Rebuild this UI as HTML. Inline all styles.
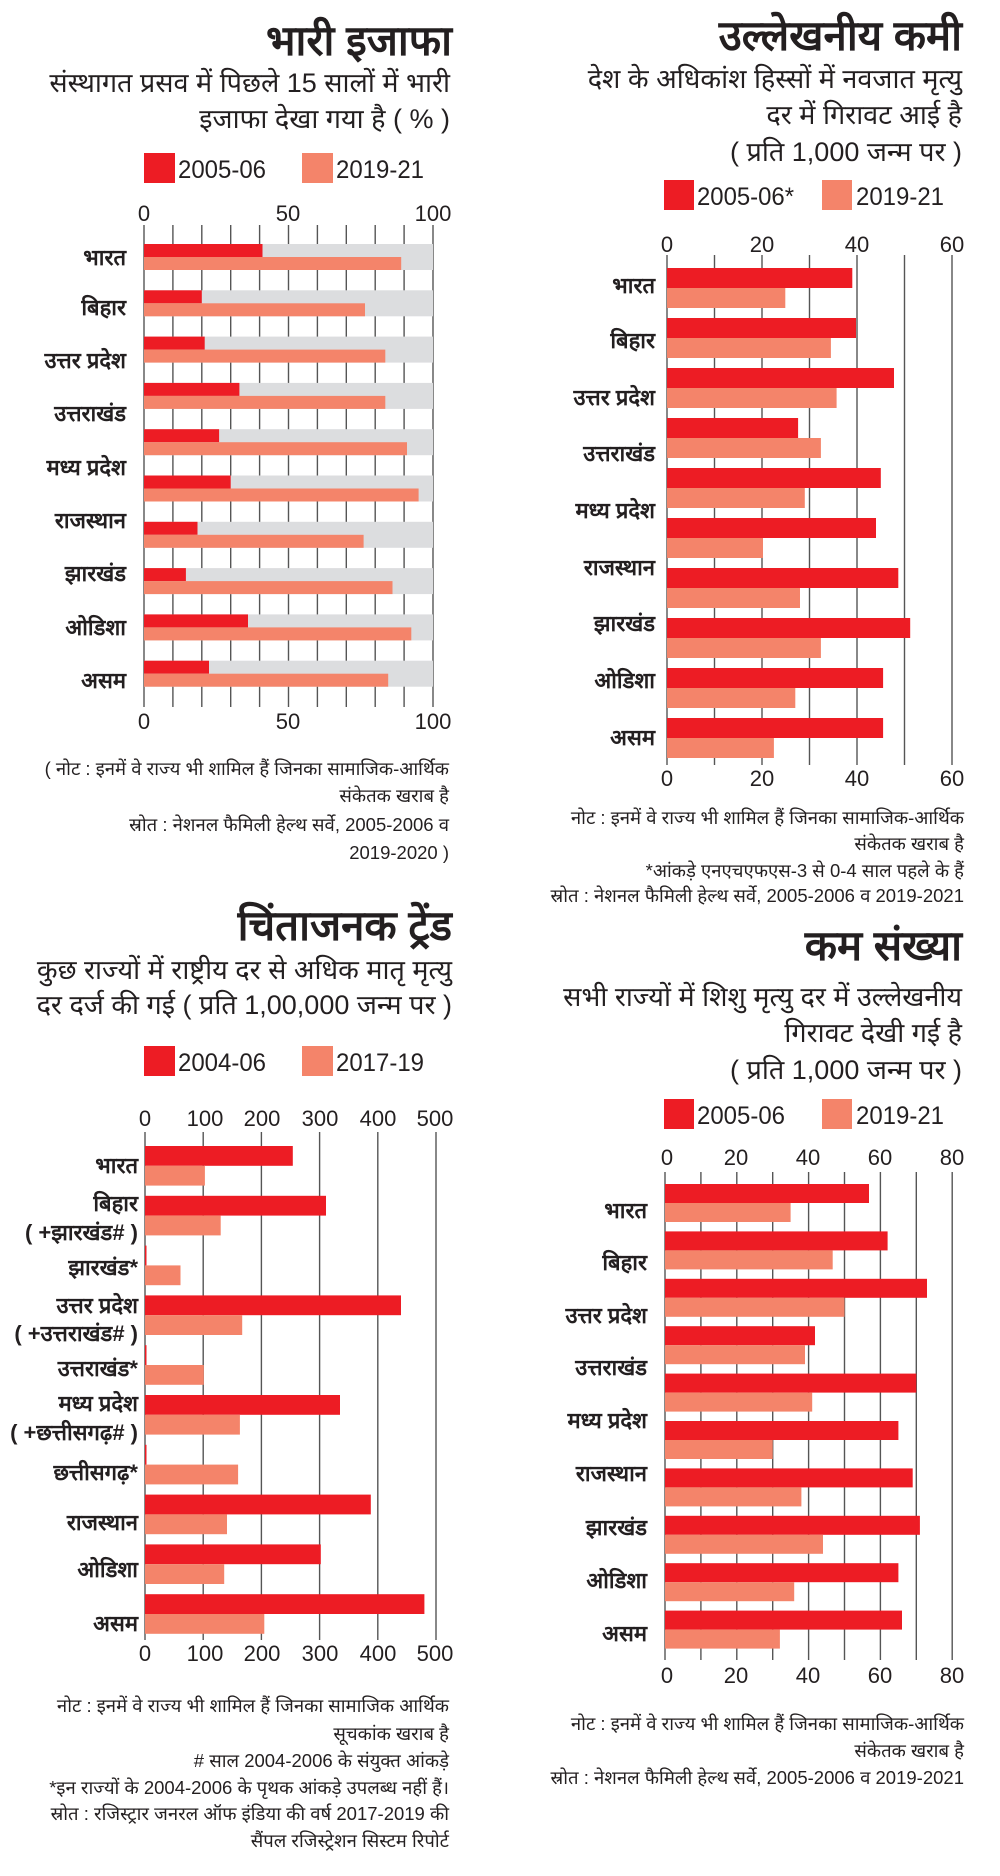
<!DOCTYPE html>
<html><head><meta charset="utf-8"><style>
html,body{margin:0;padding:0;background:#fff;}
svg{display:block;}
text{font-family:"Liberation Sans Narrow","Liberation Sans",sans-serif;fill:#231f20;}
.t{font-size:42px;font-weight:bold;text-anchor:end;}
.s{font-size:27px;text-anchor:end;}
.lg{font-size:25px;}
.k{font-size:22px;text-anchor:middle;}
.l{font-size:22px;font-weight:bold;text-anchor:end;}
.n{font-size:18.5px;text-anchor:end;}
.g line{stroke:#555;stroke-width:1.4;}
.r{fill:#ed1c24;} .o{fill:#f4846a;} .b{fill:#dcdddf;}
</style></head><body>
<svg width="1000" height="1876" viewBox="0 0 1000 1876" xmlns="http://www.w3.org/2000/svg">

<!-- ===== Chart 1 ===== -->
<text class="t" x="452" y="55">भारी इजाफा</text>
<text class="s" x="450" y="92">संस्थागत प्रसव में पिछले 15 सालों में भारी</text>
<text class="s" x="450" y="128">इजाफा देखा गया है ( % )</text>
<rect class="r" x="144" y="153" width="31" height="30"/><text class="lg" x="178" y="178" textLength="88" lengthAdjust="spacingAndGlyphs">2005-06</text>
<rect class="o" x="302" y="153" width="31" height="30"/><text class="lg" x="336" y="178" textLength="88" lengthAdjust="spacingAndGlyphs">2019-21</text>
<text class="k" x="144" y="221">0</text><text class="k" x="288" y="221">50</text><text class="k" x="433" y="221">100</text>
<g class="g">
<line x1="144" y1="225" x2="144" y2="707"/><line x1="172.9" y1="225" x2="172.9" y2="707"/><line x1="201.8" y1="225" x2="201.8" y2="707"/><line x1="230.7" y1="225" x2="230.7" y2="707"/><line x1="259.6" y1="225" x2="259.6" y2="707"/><line x1="288.5" y1="225" x2="288.5" y2="707"/><line x1="317.4" y1="225" x2="317.4" y2="707"/><line x1="346.3" y1="225" x2="346.3" y2="707"/><line x1="375.2" y1="225" x2="375.2" y2="707"/><line x1="404.1" y1="225" x2="404.1" y2="707"/><line x1="433" y1="225" x2="433" y2="707"/>
</g>
<g>
<rect class="b" x="144" y="244" width="289" height="26"/><rect class="r" x="144" y="244" width="118.5" height="13"/><rect class="o" x="144" y="257" width="257.2" height="13"/>
<rect class="b" x="144" y="290.3" width="289" height="26"/><rect class="r" x="144" y="290.3" width="57.8" height="13"/><rect class="o" x="144" y="303.3" width="221" height="13"/>
<rect class="b" x="144" y="336.6" width="289" height="26"/><rect class="r" x="144" y="336.6" width="60.7" height="13"/><rect class="o" x="144" y="349.6" width="241.3" height="13"/>
<rect class="b" x="144" y="382.9" width="289" height="26"/><rect class="r" x="144" y="382.9" width="95.4" height="13"/><rect class="o" x="144" y="395.9" width="241.3" height="13"/>
<rect class="b" x="144" y="429.2" width="289" height="26"/><rect class="r" x="144" y="429.2" width="75.1" height="13"/><rect class="o" x="144" y="442.2" width="263" height="13"/>
<rect class="b" x="144" y="475.5" width="289" height="26"/><rect class="r" x="144" y="475.5" width="86.7" height="13"/><rect class="o" x="144" y="488.5" width="274.6" height="13"/>
<rect class="b" x="144" y="521.8" width="289" height="26"/><rect class="r" x="144" y="521.8" width="53.5" height="13"/><rect class="o" x="144" y="534.8" width="219.6" height="13"/>
<rect class="b" x="144" y="568.1" width="289" height="26"/><rect class="r" x="144" y="568.1" width="41.9" height="13"/><rect class="o" x="144" y="581.1" width="248.5" height="13"/>
<rect class="b" x="144" y="614.4" width="289" height="26"/><rect class="r" x="144" y="614.4" width="104" height="13"/><rect class="o" x="144" y="627.4" width="267.3" height="13"/>
<rect class="b" x="144" y="660.7" width="289" height="26"/><rect class="r" x="144" y="660.7" width="65" height="13"/><rect class="o" x="144" y="673.7" width="244.2" height="13"/>
</g>
<text class="l" x="126" y="265">भारत</text>
<text class="l" x="126" y="315">बिहार</text>
<text class="l" x="126" y="368">उत्तर प्रदेश</text>
<text class="l" x="126" y="421">उत्तराखंड</text>
<text class="l" x="126" y="475">मध्य प्रदेश</text>
<text class="l" x="126" y="528">राजस्थान</text>
<text class="l" x="126" y="581">झारखंड</text>
<text class="l" x="126" y="635">ओडिशा</text>
<text class="l" x="126" y="688">असम</text>
<text class="k" x="144" y="729">0</text><text class="k" x="288" y="729">50</text><text class="k" x="433" y="729">100</text>
<text class="n" x="449" y="775">( नोट : इनमें वे राज्य भी शामिल हैं जिनका सामाजिक-आर्थिक</text>
<text class="n" x="449" y="802">संकेतक खराब है</text>
<text class="n" x="449" y="831">स्रोत : नेशनल फैमिली हेल्थ सर्वे, 2005-2006 व</text>
<text class="n" x="449" y="859">2019-2020 )</text>

<!-- ===== Chart 2 ===== -->
<text class="t" x="962" y="50">उल्लेखनीय कमी</text>
<text class="s" x="962" y="88">देश के अधिकांश हिस्सों में नवजात मृत्यु</text>
<text class="s" x="962" y="124">दर में गिरावट आई है</text>
<text class="s" x="962" y="161">( प्रति 1,000 जन्म पर )</text>
<rect class="r" x="664" y="180" width="30" height="30"/><text class="lg" x="697" y="205" textLength="97" lengthAdjust="spacingAndGlyphs">2005-06*</text>
<rect class="o" x="822" y="180" width="30" height="30"/><text class="lg" x="856" y="205" textLength="88" lengthAdjust="spacingAndGlyphs">2019-21</text>
<text class="k" x="667" y="252">0</text><text class="k" x="762" y="252">20</text><text class="k" x="857" y="252">40</text><text class="k" x="952" y="252">60</text>
<g class="g">
<line x1="667" y1="255" x2="667" y2="765"/><line x1="714.5" y1="255" x2="714.5" y2="765"/><line x1="762" y1="255" x2="762" y2="765"/><line x1="809.5" y1="255" x2="809.5" y2="765"/><line x1="857" y1="255" x2="857" y2="765"/><line x1="904.5" y1="255" x2="904.5" y2="765"/><line x1="952" y1="255" x2="952" y2="765"/>
</g>
<g>
<rect class="r" x="667" y="268" width="185.3" height="20"/><rect class="o" x="667" y="288" width="118.3" height="20"/>
<rect class="r" x="667" y="318" width="189" height="20"/><rect class="o" x="667" y="338" width="163.9" height="20"/>
<rect class="r" x="667" y="368" width="227" height="20"/><rect class="o" x="667" y="388" width="169.6" height="20"/>
<rect class="r" x="667" y="418" width="131.1" height="20"/><rect class="o" x="667" y="438" width="153.9" height="20"/>
<rect class="r" x="667" y="468" width="213.8" height="20"/><rect class="o" x="667" y="488" width="137.8" height="20"/>
<rect class="r" x="667" y="518" width="209" height="20"/><rect class="o" x="667" y="538" width="96" height="20"/>
<rect class="r" x="667" y="568" width="231.3" height="20"/><rect class="o" x="667" y="588" width="133" height="20"/>
<rect class="r" x="667" y="618" width="243.2" height="20"/><rect class="o" x="667" y="638" width="153.9" height="20"/>
<rect class="r" x="667" y="668" width="216.1" height="20"/><rect class="o" x="667" y="688" width="128.3" height="20"/>
<rect class="r" x="667" y="718" width="216.1" height="20"/><rect class="o" x="667" y="738" width="106.9" height="20"/>
</g>
<text class="l" x="655" y="293">भारत</text>
<text class="l" x="655" y="348">बिहार</text>
<text class="l" x="655" y="405">उत्तर प्रदेश</text>
<text class="l" x="655" y="461">उत्तराखंड</text>
<text class="l" x="655" y="518">मध्य प्रदेश</text>
<text class="l" x="655" y="575">राजस्थान</text>
<text class="l" x="655" y="631">झारखंड</text>
<text class="l" x="655" y="688">ओडिशा</text>
<text class="l" x="655" y="745">असम</text>
<text class="k" x="667" y="786">0</text><text class="k" x="762" y="786">20</text><text class="k" x="857" y="786">40</text><text class="k" x="952" y="786">60</text>
<text class="n" x="964" y="824">नोट : इनमें वे राज्य भी शामिल हैं जिनका सामाजिक-आर्थिक</text>
<text class="n" x="964" y="850">संकेतक खराब है</text>
<text class="n" x="964" y="877">*आंकड़े एनएचएफएस-3 से 0-4 साल पहले के हैं</text>
<text class="n" x="964" y="902">स्रोत : नेशनल फैमिली हेल्थ सर्वे, 2005-2006 व 2019-2021</text>

<!-- ===== Chart 3 ===== -->
<text class="t" x="452" y="940">चिंताजनक ट्रेंड</text>
<text class="s" x="452" y="979">कुछ राज्यों में राष्ट्रीय दर से अधिक मातृ मृत्यु</text>
<text class="s" x="452" y="1014">दर दर्ज की गई ( प्रति 1,00,000 जन्म पर )</text>
<rect class="r" x="144" y="1046" width="31" height="30"/><text class="lg" x="178" y="1071" textLength="88" lengthAdjust="spacingAndGlyphs">2004-06</text>
<rect class="o" x="302" y="1046" width="31" height="30"/><text class="lg" x="336" y="1071" textLength="88" lengthAdjust="spacingAndGlyphs">2017-19</text>
<text class="k" x="145" y="1126">0</text><text class="k" x="205" y="1126">100</text><text class="k" x="262" y="1126">200</text><text class="k" x="320" y="1126">300</text><text class="k" x="378" y="1126">400</text><text class="k" x="435" y="1126">500</text>
<g class="g">
<line x1="145" y1="1132" x2="145" y2="1640"/><line x1="203.2" y1="1132" x2="203.2" y2="1640"/><line x1="261.4" y1="1132" x2="261.4" y2="1640"/><line x1="319.6" y1="1132" x2="319.6" y2="1640"/><line x1="377.8" y1="1132" x2="377.8" y2="1640"/><line x1="436" y1="1132" x2="436" y2="1640"/>
</g>
<g>
<rect class="r" x="145" y="1146" width="147.8" height="19.8"/><rect class="o" x="145" y="1165.8" width="59.9" height="19.8"/>
<rect class="r" x="145" y="1195.8" width="181" height="19.8"/><rect class="o" x="145" y="1215.6" width="75.7" height="19.8"/>
<rect class="r" x="145" y="1245.6" width="1.5" height="19.8"/><rect class="o" x="145" y="1265.4" width="35.5" height="19.8"/>
<rect class="r" x="145" y="1295.4" width="256" height="19.8"/><rect class="o" x="145" y="1315.2" width="97.2" height="19.8"/>
<rect class="r" x="145" y="1345.2" width="1.5" height="19.8"/><rect class="o" x="145" y="1365" width="58.8" height="19.8"/>
<rect class="r" x="145" y="1395" width="195" height="19.8"/><rect class="o" x="145" y="1414.8" width="94.9" height="19.8"/>
<rect class="r" x="145" y="1444.8" width="1.5" height="19.8"/><rect class="o" x="145" y="1464.6" width="93.1" height="19.8"/>
<rect class="r" x="145" y="1494.6" width="225.8" height="19.8"/><rect class="o" x="145" y="1514.4" width="82" height="19.8"/>
<rect class="r" x="145" y="1544.4" width="175.8" height="19.8"/><rect class="o" x="145" y="1564.2" width="79.2" height="19.8"/>
<rect class="r" x="145" y="1594.2" width="279.4" height="19.8"/><rect class="o" x="145" y="1614" width="119.3" height="19.8"/>
</g>
<text class="l" x="138" y="1173">भारत</text>
<text class="l" x="138" y="1211">बिहार</text>
<text class="l" x="138" y="1240">( +झारखंड# )</text>
<text class="l" x="138" y="1275">झारखंड*</text>
<text class="l" x="138" y="1313">उत्तर प्रदेश</text>
<text class="l" x="138" y="1341">( +उत्तराखंड# )</text>
<text class="l" x="138" y="1376">उत्तराखंड*</text>
<text class="l" x="138" y="1411">मध्य प्रदेश</text>
<text class="l" x="138" y="1440">( +छत्तीसगढ़# )</text>
<text class="l" x="138" y="1480">छत्तीसगढ़*</text>
<text class="l" x="138" y="1530">राजस्थान</text>
<text class="l" x="138" y="1577">ओडिशा</text>
<text class="l" x="138" y="1631">असम</text>
<text class="k" x="145" y="1661">0</text><text class="k" x="205" y="1661">100</text><text class="k" x="262" y="1661">200</text><text class="k" x="320" y="1661">300</text><text class="k" x="378" y="1661">400</text><text class="k" x="435" y="1661">500</text>
<text class="n" x="449" y="1712">नोट : इनमें वे राज्य भी शामिल हैं जिनका सामाजिक आर्थिक</text>
<text class="n" x="449" y="1740">सूचकांक खराब है</text>
<text class="n" x="449" y="1767">#  साल 2004-2006 के संयुक्त आंकड़े</text>
<text class="n" x="449" y="1794">*इन राज्यों के 2004-2006 के पृथक आंकड़े उपलब्ध नहीं हैं।</text>
<text class="n" x="449" y="1820">स्रोत : रजिस्ट्रार जनरल ऑफ इंडिया की वर्ष 2017-2019 की</text>
<text class="n" x="449" y="1847">सैंपल रजिस्ट्रेशन सिस्टम रिपोर्ट</text>

<!-- ===== Chart 4 ===== -->
<text class="t" x="962" y="960">कम संख्या</text>
<text class="s" x="962" y="1006">सभी राज्यों में शिशु मृत्यु दर में उल्लेखनीय</text>
<text class="s" x="962" y="1042">गिरावट देखी गई है</text>
<text class="s" x="962" y="1079">( प्रति 1,000 जन्म पर )</text>
<rect class="r" x="664" y="1099" width="30" height="30"/><text class="lg" x="697" y="1124" textLength="88" lengthAdjust="spacingAndGlyphs">2005-06</text>
<rect class="o" x="822" y="1099" width="30" height="30"/><text class="lg" x="856" y="1124" textLength="88" lengthAdjust="spacingAndGlyphs">2019-21</text>
<text class="k" x="667" y="1165">0</text><text class="k" x="736" y="1165">20</text><text class="k" x="808" y="1165">40</text><text class="k" x="880" y="1165">60</text><text class="k" x="952" y="1165">80</text>
<g class="g">
<line x1="665" y1="1172" x2="665" y2="1660"/><line x1="700.9" y1="1172" x2="700.9" y2="1660"/><line x1="736.8" y1="1172" x2="736.8" y2="1660"/><line x1="772.7" y1="1172" x2="772.7" y2="1660"/><line x1="808.6" y1="1172" x2="808.6" y2="1660"/><line x1="844.5" y1="1172" x2="844.5" y2="1660"/><line x1="880.4" y1="1172" x2="880.4" y2="1660"/><line x1="916.3" y1="1172" x2="916.3" y2="1660"/><line x1="952.2" y1="1172" x2="952.2" y2="1660"/>
</g>
<g>
<rect class="r" x="665" y="1184" width="204" height="19"/><rect class="o" x="665" y="1203" width="125.6" height="19"/>
<rect class="r" x="665" y="1231.4" width="222.6" height="19"/><rect class="o" x="665" y="1250.4" width="167.7" height="19"/>
<rect class="r" x="665" y="1278.8" width="262" height="19"/><rect class="o" x="665" y="1297.8" width="179.5" height="19"/>
<rect class="r" x="665" y="1326.2" width="150" height="19"/><rect class="o" x="665" y="1345.2" width="140" height="19"/>
<rect class="r" x="665" y="1373.6" width="251.3" height="19"/><rect class="o" x="665" y="1392.6" width="147.2" height="19"/>
<rect class="r" x="665" y="1421" width="233.4" height="19"/><rect class="o" x="665" y="1440" width="107.7" height="19"/>
<rect class="r" x="665" y="1468.4" width="247.7" height="19"/><rect class="o" x="665" y="1487.4" width="136.4" height="19"/>
<rect class="r" x="665" y="1515.8" width="254.9" height="19"/><rect class="o" x="665" y="1534.8" width="158" height="19"/>
<rect class="r" x="665" y="1563.2" width="233.4" height="19"/><rect class="o" x="665" y="1582.2" width="129.2" height="19"/>
<rect class="r" x="665" y="1610.6" width="237" height="19"/><rect class="o" x="665" y="1629.6" width="114.9" height="19"/>
</g>
<text class="l" x="647" y="1218">भारत</text>
<text class="l" x="647" y="1270">बिहार</text>
<text class="l" x="647" y="1323">उत्तर प्रदेश</text>
<text class="l" x="647" y="1375">उत्तराखंड</text>
<text class="l" x="647" y="1428">मध्य प्रदेश</text>
<text class="l" x="647" y="1481">राजस्थान</text>
<text class="l" x="647" y="1535">झारखंड</text>
<text class="l" x="647" y="1588">ओडिशा</text>
<text class="l" x="647" y="1641">असम</text>
<text class="k" x="667" y="1683">0</text><text class="k" x="736" y="1683">20</text><text class="k" x="808" y="1683">40</text><text class="k" x="880" y="1683">60</text><text class="k" x="952" y="1683">80</text>
<text class="n" x="964" y="1730">नोट : इनमें वे राज्य भी शामिल हैं जिनका सामाजिक-आर्थिक</text>
<text class="n" x="964" y="1757">संकेतक खराब है</text>
<text class="n" x="964" y="1784">स्रोत : नेशनल फैमिली हेल्थ सर्वे, 2005-2006 व 2019-2021</text>
</svg>
</body></html>
